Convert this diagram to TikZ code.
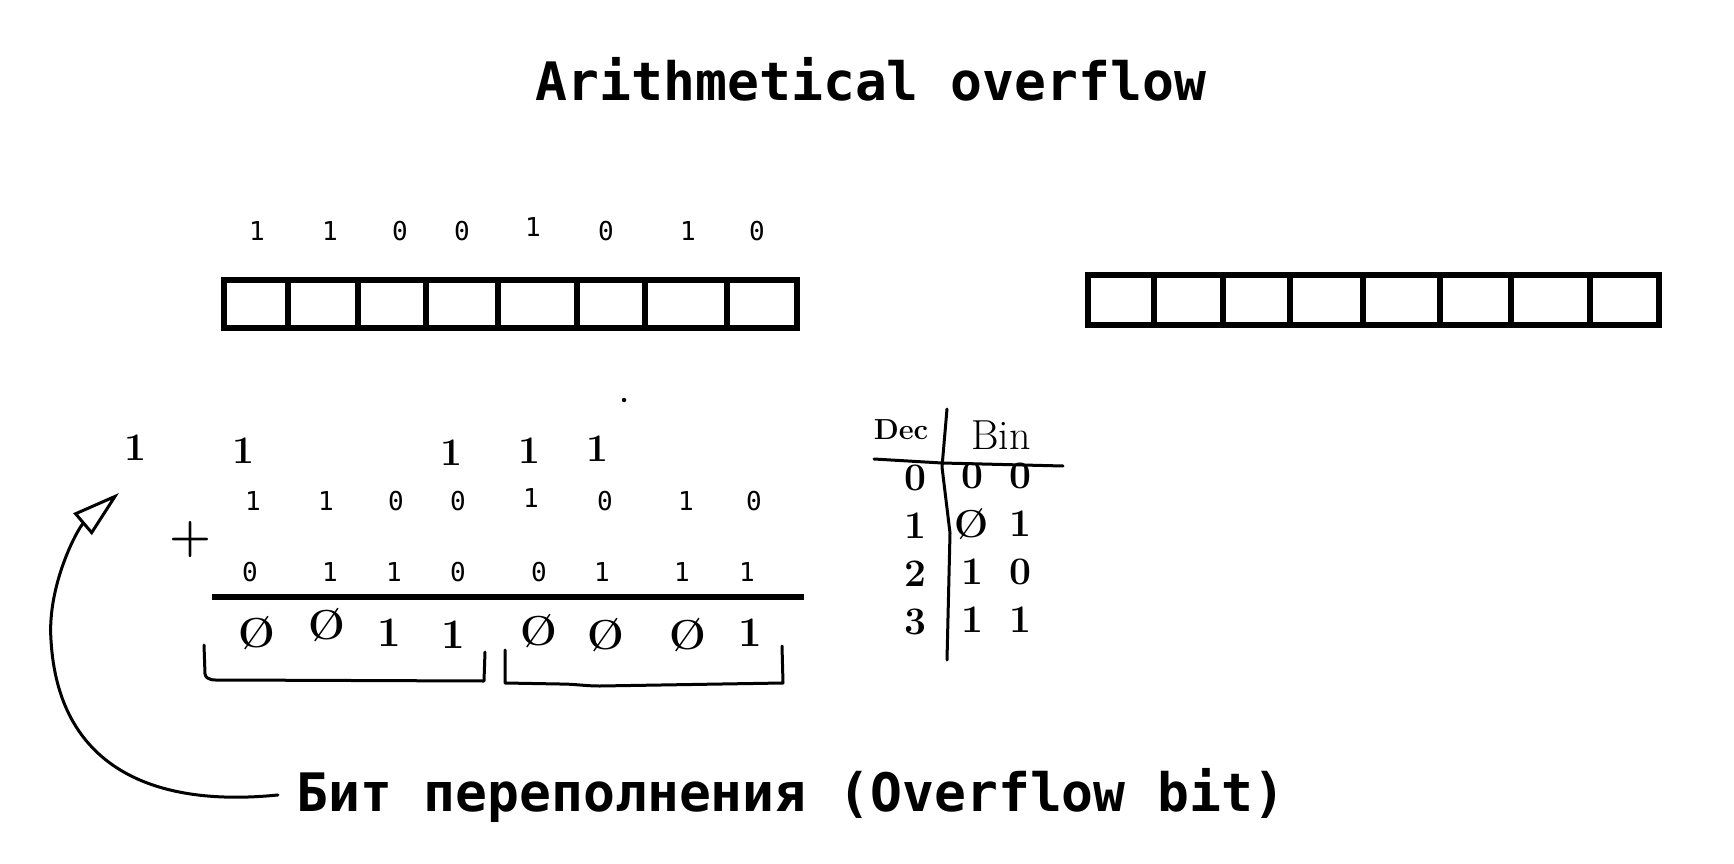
\documentclass[tikz,border=0pt]{standalone}
\usepackage{fontspec}
\setmonofont{DejaVu Sans Mono}
\usepackage{xcolor}
\definecolor{cInk}{HTML}{000000}
\usepackage{tikz}
\usetikzlibrary{positioning,arrows.meta}
\tikzset{
  node-title/.style={font=\ttfamily\bfseries\fontsize{53}{60}\selectfont,
    text=cInk,inner sep=0pt},
  node-bit/.style={font=\ttfamily\fontsize{26}{30}\selectfont,text=cInk,inner sep=0pt},
  node-hand/.style={font=\rmfamily\bfseries\fontsize{39}{44}\selectfont,text=cInk,inner sep=0pt},
  node-sum/.style={node-hand,font=\rmfamily\bfseries\fontsize{42}{48}\selectfont},
  reg-line/.style={draw=cInk,line width=5.5pt},
  pen/.style={draw=cInk,line width=3pt,line cap=round,line join=round},
  arrow-pen/.style={pen,-{Triangle[open,length=48pt,width=28pt,line width=3pt]}},
}

\begin{document}
\begin{tikzpicture}[x=1pt,y=-1pt]
  \useasboundingbox (0,0) rectangle (1734,864);
  \node[node-title,anchor=base] (title) at (871,101) {Arithmetical overflow};

  % registers
  \draw[reg-line] (224,280) rectangle (797,328);
  \foreach \x in {288,358,426,498,577,645,727} \draw[reg-line] (\x,280) -- (\x,328);
  \draw[reg-line] (1088,275) rectangle (1659,325);
  \foreach \x in {1154,1223,1290,1363,1440,1511,1590} \draw[reg-line] (\x,275) -- (\x,325);
  \foreach \x/\y/\b [count=\i] in {257/231/1,330/231/1,400/231/0,462/231/0,
      533/227/1,606/231/0,688/231/1,757/231/0}
    \node[node-bit] (top-\i) at (\x,\y) {\b};

  % addition
  \fill[cInk] (624,400) circle (2.2pt);
  \node[node-hand] (carry-ovf) at (135,448) {1};
  \foreach \x/\y [count=\i] in {243/451,451/453,529/451,597/449}
    \node[node-hand] (carry-\i) at (\x,\y) {1};
  \foreach \x/\y/\b [count=\i] in {253/501/1,326/501/1,396/501/0,458/501/0,
      531/498/1,605/501/0,686/501/1,754/501/0}
    \node[node-bit] (row-a-\i) at (\x,\y) {\b};
  \foreach \x/\b [count=\i] in {250/0,330/1,394/1,458/0,539/0,602/1,682/1,747/1}
    \node[node-bit] (row-b-\i) at (\x,572) {\b};
  \node[node-hand,font=\rmfamily\bfseries\fontsize{48}{52}\selectfont] (plus) at (190,540) {+};
  \draw[cInk,line width=5.5pt] (212,597) -- (804,597);
  \foreach \x/\y/\b [count=\i] in {257/633/Ø,327/625/Ø,389/633/1,453/635/1,
      539/631/Ø,606/635/Ø,688/635/Ø,750/633/1}
    \node[node-sum] (sum-\i) at (\x,\y) {\b};
  \draw[pen] (204,645) -- (205,674) to[out=-80,in=180] (222,680) -- (484,681) -- (485,652);
  \draw[pen] (505,650) -- (505,683) -- (560,684) to[out=0,in=180] (600,686) -- (783,683) -- (782,646);

  % Dec / Bin table
  \node[node-hand,font=\rmfamily\bfseries\fontsize{29}{32}\selectfont] (dec) at (901,430) {Dec};
  \node[node-hand,font=\rmfamily\fontsize{42}{46}\selectfont] (bin) at (1001,435) {Bin};
  \draw[pen] (947,409) -- (942,467) -- (950,533) -- (947,660);
  \draw[pen] (874,459) -- (942,463) -- (1063,466);
  \foreach \d/\a/\b [count=\i] in {0/0/0,1/Ø/1,2/1/0,3/1/1}{
    \node[node-hand] (dec-\i) at (915,{430+48*\i}) {\d};
    \node[node-hand] (bin-a-\i) at (972,{428+48*\i}) {\a};
    \node[node-hand] (bin-b-\i) at (1020,{428+48*\i}) {\b};
  }

  \node[node-title,anchor=base west] (ovf) at (296,811) {Бит переполнения (Overflow bit)};
  \coordinate (ovf-tip) at (119,493);
  \draw[arrow-pen] ([xshift=-18pt]ovf.west) .. controls (150,808) and (58,765) .. (51,640)
    .. controls (47,585) and (78,528) .. (ovf-tip);
\end{tikzpicture}
\end{document}
